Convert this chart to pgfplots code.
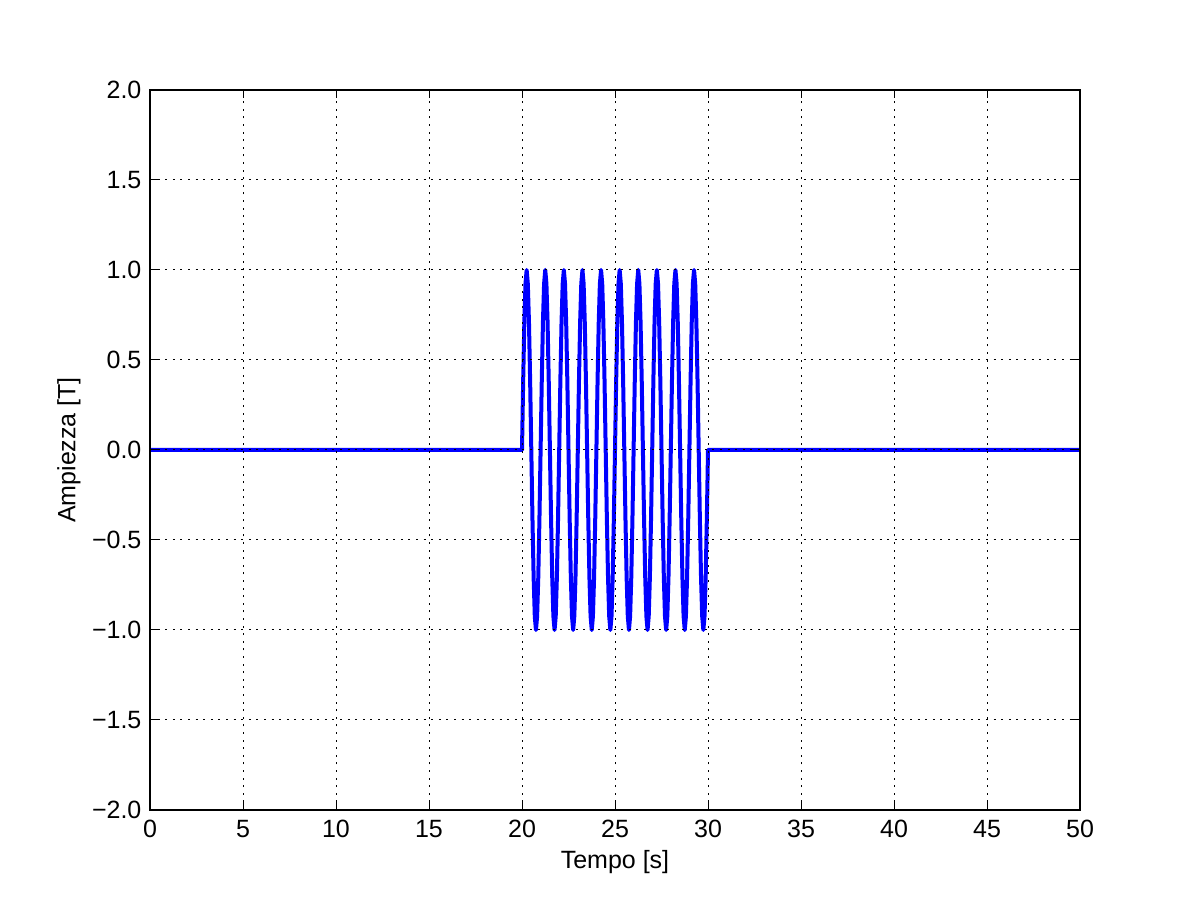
\documentclass[border=0pt]{standalone}
\usepackage{pgfplots}
\pgfplotsset{compat=1.18}
\usepackage{fontspec}
\setmainfont{Liberation Sans}
\begin{document}
\fontsize{18.75}{22}\selectfont
\begin{tikzpicture}
\begin{axis}[
  scale only axis,
  width=697.5pt, height=540pt,
  xmin=0, xmax=50, ymin=-2, ymax=2,
  xtick={0,5,...,50},
  xticklabels={0,5,10,15,20,25,30,35,40,45,50},
  ytick={-2,-1.5,-1,-0.5,0,0.5,1,1.5,2},
  yticklabels={−2.0,−1.5,−1.0,−0.5,0.0,0.5,1.0,1.5,2.0},
  tick align=inside,
  major tick length=6.25pt,
  tick style={black, line width=0.75pt},
  axis line style={black, line width=1.5pt},
  axis on top,
  grid=major,
  major grid style={black, line width=0.75pt, dash pattern=on 1.5pt off 4.2pt},
  xlabel={Tempo [s]},
  ylabel={Ampiezza [T]},
  ticklabel style={font=\fontsize{18.75}{22}\selectfont},
  label style={font=\fontsize{18.75}{22}\selectfont},
  xticklabel style={yshift=-1pt},
  xlabel style={yshift=3pt},
  ylabel style={yshift=-4pt},
]
\addplot[blue, line width=3pt, line join=round] coordinates {
(0,0) (20,0)
(20.0625,0.3827) (20.125,0.7071) (20.1875,0.9239) (20.25,1) (20.3125,0.9239) (20.375,0.7071) (20.4375,0.3827) (20.5,0) (20.5625,-0.3827) (20.625,-0.7071) (20.6875,-0.9239) (20.75,-1) (20.8125,-0.9239) (20.875,-0.7071) (20.9375,-0.3827)
(21,0) (21.0625,0.3827) (21.125,0.7071) (21.1875,0.9239) (21.25,1) (21.3125,0.9239) (21.375,0.7071) (21.4375,0.3827) (21.5,0) (21.5625,-0.3827) (21.625,-0.7071) (21.6875,-0.9239) (21.75,-1) (21.8125,-0.9239) (21.875,-0.7071) (21.9375,-0.3827)
(22,0) (22.0625,0.3827) (22.125,0.7071) (22.1875,0.9239) (22.25,1) (22.3125,0.9239) (22.375,0.7071) (22.4375,0.3827) (22.5,0) (22.5625,-0.3827) (22.625,-0.7071) (22.6875,-0.9239) (22.75,-1) (22.8125,-0.9239) (22.875,-0.7071) (22.9375,-0.3827)
(23,0) (23.0625,0.3827) (23.125,0.7071) (23.1875,0.9239) (23.25,1) (23.3125,0.9239) (23.375,0.7071) (23.4375,0.3827) (23.5,0) (23.5625,-0.3827) (23.625,-0.7071) (23.6875,-0.9239) (23.75,-1) (23.8125,-0.9239) (23.875,-0.7071) (23.9375,-0.3827)
(24,0) (24.0625,0.3827) (24.125,0.7071) (24.1875,0.9239) (24.25,1) (24.3125,0.9239) (24.375,0.7071) (24.4375,0.3827) (24.5,0) (24.5625,-0.3827) (24.625,-0.7071) (24.6875,-0.9239) (24.75,-1) (24.8125,-0.9239) (24.875,-0.7071) (24.9375,-0.3827)
(25,0) (25.0625,0.3827) (25.125,0.7071) (25.1875,0.9239) (25.25,1) (25.3125,0.9239) (25.375,0.7071) (25.4375,0.3827) (25.5,0) (25.5625,-0.3827) (25.625,-0.7071) (25.6875,-0.9239) (25.75,-1) (25.8125,-0.9239) (25.875,-0.7071) (25.9375,-0.3827)
(26,0) (26.0625,0.3827) (26.125,0.7071) (26.1875,0.9239) (26.25,1) (26.3125,0.9239) (26.375,0.7071) (26.4375,0.3827) (26.5,0) (26.5625,-0.3827) (26.625,-0.7071) (26.6875,-0.9239) (26.75,-1) (26.8125,-0.9239) (26.875,-0.7071) (26.9375,-0.3827)
(27,0) (27.0625,0.3827) (27.125,0.7071) (27.1875,0.9239) (27.25,1) (27.3125,0.9239) (27.375,0.7071) (27.4375,0.3827) (27.5,0) (27.5625,-0.3827) (27.625,-0.7071) (27.6875,-0.9239) (27.75,-1) (27.8125,-0.9239) (27.875,-0.7071) (27.9375,-0.3827)
(28,0) (28.0625,0.3827) (28.125,0.7071) (28.1875,0.9239) (28.25,1) (28.3125,0.9239) (28.375,0.7071) (28.4375,0.3827) (28.5,0) (28.5625,-0.3827) (28.625,-0.7071) (28.6875,-0.9239) (28.75,-1) (28.8125,-0.9239) (28.875,-0.7071) (28.9375,-0.3827)
(29,0) (29.0625,0.3827) (29.125,0.7071) (29.1875,0.9239) (29.25,1) (29.3125,0.9239) (29.375,0.7071) (29.4375,0.3827) (29.5,0) (29.5625,-0.3827) (29.625,-0.7071) (29.6875,-0.9239) (29.75,-1) (29.8125,-0.9239) (29.875,-0.7071) (29.9375,-0.3827)
(30,0) (50,0)
};
\end{axis}
\path[use as bounding box] ([shift={(-112.5pt,-67.5pt)}]current axis.south west) rectangle ([shift={(90pt,67.5pt)}]current axis.north east);
\end{tikzpicture}
\end{document}
